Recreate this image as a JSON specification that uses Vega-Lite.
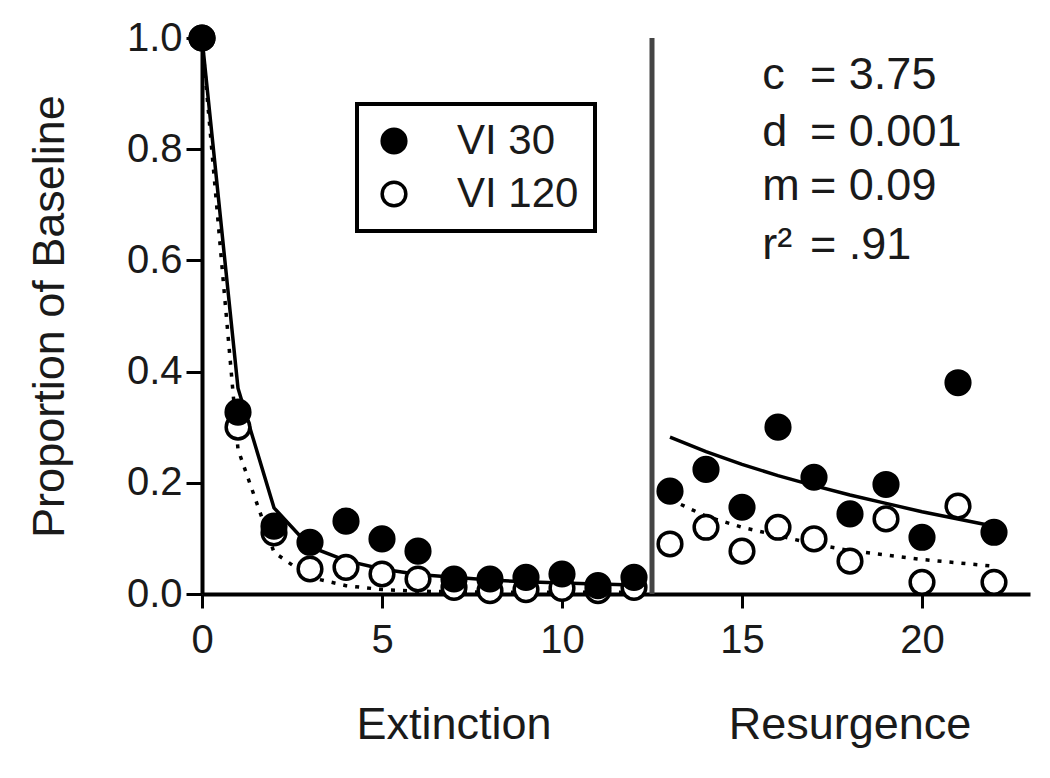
{
  "$schema": "https://vega.github.io/schema/vega-lite/v6.json",
  "width": 828,
  "height": 556,
  "autosize": {"type": "none"},
  "padding": {"left": 202, "top": 38, "right": 20, "bottom": 184},
  "background": "white",
  "config": {
    "view": {"stroke": null},
    "font": "Liberation Sans",
    "axis": {
      "domainColor": "black",
      "domainWidth": 4,
      "tickColor": "black",
      "tickWidth": 3,
      "grid": false,
      "labelFont": "Liberation Sans",
      "labelFontSize": 40,
      "labelColor": "#1a1a1a",
      "titleFont": "Liberation Sans",
      "titleFontSize": 45,
      "titleFontWeight": "normal",
      "titleColor": "#1a1a1a"
    },
    "legend": {
      "labelFont": "Liberation Sans",
      "labelFontSize": 42,
      "labelColor": "#1a1a1a"
    }
  },
  "datasets": {
    "obs": [
      {"x": 0, "y": 1.0, "g": "VI 120"},
      {"x": 1, "y": 0.30, "g": "VI 120"},
      {"x": 2, "y": 0.11, "g": "VI 120"},
      {"x": 3, "y": 0.045, "g": "VI 120"},
      {"x": 4, "y": 0.048, "g": "VI 120"},
      {"x": 5, "y": 0.036, "g": "VI 120"},
      {"x": 6, "y": 0.027, "g": "VI 120"},
      {"x": 7, "y": 0.012, "g": "VI 120"},
      {"x": 8, "y": 0.006, "g": "VI 120"},
      {"x": 9, "y": 0.008, "g": "VI 120"},
      {"x": 10, "y": 0.01, "g": "VI 120"},
      {"x": 11, "y": 0.006, "g": "VI 120"},
      {"x": 12, "y": 0.012, "g": "VI 120"},
      {"x": 13, "y": 0.09, "g": "VI 120"},
      {"x": 14, "y": 0.12, "g": "VI 120"},
      {"x": 15, "y": 0.077, "g": "VI 120"},
      {"x": 16, "y": 0.12, "g": "VI 120"},
      {"x": 17, "y": 0.099, "g": "VI 120"},
      {"x": 18, "y": 0.059, "g": "VI 120"},
      {"x": 19, "y": 0.135, "g": "VI 120"},
      {"x": 20, "y": 0.021, "g": "VI 120"},
      {"x": 21, "y": 0.158, "g": "VI 120"},
      {"x": 22, "y": 0.021, "g": "VI 120"},
      {"x": 0, "y": 1.0, "g": "VI 30"},
      {"x": 1, "y": 0.327, "g": "VI 30"},
      {"x": 2, "y": 0.122, "g": "VI 30"},
      {"x": 3, "y": 0.093, "g": "VI 30"},
      {"x": 4, "y": 0.131, "g": "VI 30"},
      {"x": 5, "y": 0.099, "g": "VI 30"},
      {"x": 6, "y": 0.077, "g": "VI 30"},
      {"x": 7, "y": 0.027, "g": "VI 30"},
      {"x": 8, "y": 0.027, "g": "VI 30"},
      {"x": 9, "y": 0.03, "g": "VI 30"},
      {"x": 10, "y": 0.036, "g": "VI 30"},
      {"x": 11, "y": 0.015, "g": "VI 30"},
      {"x": 12, "y": 0.03, "g": "VI 30"},
      {"x": 13, "y": 0.185, "g": "VI 30"},
      {"x": 14, "y": 0.224, "g": "VI 30"},
      {"x": 15, "y": 0.156, "g": "VI 30"},
      {"x": 16, "y": 0.30, "g": "VI 30"},
      {"x": 17, "y": 0.21, "g": "VI 30"},
      {"x": 18, "y": 0.144, "g": "VI 30"},
      {"x": 19, "y": 0.197, "g": "VI 30"},
      {"x": 20, "y": 0.102, "g": "VI 30"},
      {"x": 21, "y": 0.38, "g": "VI 30"},
      {"x": 22, "y": 0.111, "g": "VI 30"}
    ],
    "fit30": [
      {"x": 0, "y": 1.0, "seg": "ext"},
      {"x": 1, "y": 0.37, "seg": "ext"},
      {"x": 2, "y": 0.155, "seg": "ext"},
      {"x": 3, "y": 0.085, "seg": "ext"},
      {"x": 4, "y": 0.06, "seg": "ext"},
      {"x": 5, "y": 0.045, "seg": "ext"},
      {"x": 6, "y": 0.035, "seg": "ext"},
      {"x": 7, "y": 0.03, "seg": "ext"},
      {"x": 8, "y": 0.025, "seg": "ext"},
      {"x": 9, "y": 0.022, "seg": "ext"},
      {"x": 10, "y": 0.02, "seg": "ext"},
      {"x": 11, "y": 0.018, "seg": "ext"},
      {"x": 12, "y": 0.016, "seg": "ext"},
      {"x": 13, "y": 0.282, "seg": "res"},
      {"x": 14, "y": 0.256, "seg": "res"},
      {"x": 15, "y": 0.233, "seg": "res"},
      {"x": 16, "y": 0.213, "seg": "res"},
      {"x": 17, "y": 0.195, "seg": "res"},
      {"x": 18, "y": 0.178, "seg": "res"},
      {"x": 19, "y": 0.163, "seg": "res"},
      {"x": 20, "y": 0.148, "seg": "res"},
      {"x": 21, "y": 0.135, "seg": "res"},
      {"x": 22, "y": 0.122, "seg": "res"}
    ],
    "fit120": [
      {"x": 0, "y": 1.0, "seg": "ext"},
      {"x": 1, "y": 0.26, "seg": "ext"},
      {"x": 2, "y": 0.075, "seg": "ext"},
      {"x": 3, "y": 0.03, "seg": "ext"},
      {"x": 4, "y": 0.015, "seg": "ext"},
      {"x": 5, "y": 0.008, "seg": "ext"},
      {"x": 6, "y": 0.005, "seg": "ext"},
      {"x": 7, "y": 0.004, "seg": "ext"},
      {"x": 8, "y": 0.003, "seg": "ext"},
      {"x": 9, "y": 0.003, "seg": "ext"},
      {"x": 10, "y": 0.003, "seg": "ext"},
      {"x": 11, "y": 0.003, "seg": "ext"},
      {"x": 12, "y": 0.003, "seg": "ext"},
      {"x": 13, "y": 0.17, "seg": "res"},
      {"x": 14, "y": 0.14, "seg": "res"},
      {"x": 15, "y": 0.12, "seg": "res"},
      {"x": 16, "y": 0.105, "seg": "res"},
      {"x": 17, "y": 0.09, "seg": "res"},
      {"x": 18, "y": 0.078, "seg": "res"},
      {"x": 19, "y": 0.07, "seg": "res"},
      {"x": 20, "y": 0.062, "seg": "res"},
      {"x": 21, "y": 0.056, "seg": "res"},
      {"x": 22, "y": 0.05, "seg": "res"}
    ]
  },
  "layer": [
    {
      "data": {"values": [{"x": 12.5, "y": 0, "y2": 1}]},
      "mark": {"type": "rule", "color": "#444444", "strokeWidth": 5},
      "encoding": {
        "x": {"field": "x", "type": "quantitative", "scale": {"domain": [0, 23], "nice": false}, "title": null},
        "y": {"field": "y", "type": "quantitative", "scale": {"domain": [0, 1], "nice": false}, "title": "Proportion of Baseline"},
        "y2": {"field": "y2"}
      }
    },
    {
      "data": {"name": "fit30"},
      "mark": {"type": "line", "color": "black", "strokeWidth": 3.5},
      "encoding": {
        "x": {"field": "x", "type": "quantitative", "title": null},
        "y": {"field": "y", "type": "quantitative", "title": "Proportion of Baseline"},
        "detail": {"field": "seg"}
      }
    },
    {
      "data": {"name": "fit120"},
      "mark": {"type": "line", "color": "black", "strokeWidth": 3.5, "strokeDash": [4, 8]},
      "encoding": {
        "x": {"field": "x", "type": "quantitative", "title": null},
        "y": {"field": "y", "type": "quantitative", "title": "Proportion of Baseline"},
        "detail": {"field": "seg"}
      }
    },
    {
      "data": {"name": "obs"},
      "mark": {"type": "point", "shape": "circle", "filled": true, "size": 560, "stroke": "black", "strokeWidth": 3.5, "opacity": 1},
      "encoding": {
        "x": {
          "field": "x", "type": "quantitative", "title": null,
          "scale": {"domain": [0, 23], "nice": false},
          "axis": {"values": [0, 5, 10, 15, 20], "tickSize": 14, "labelPadding": 12, "labelFlush": false}
        },
        "y": {
          "field": "y", "type": "quantitative", "title": "Proportion of Baseline",
          "scale": {"domain": [0, 1], "nice": false},
          "axis": {"values": [0, 0.2, 0.4, 0.6, 0.8, 1.0], "format": ".1f", "tickSize": 16, "labelPadding": 4, "titlePadding": 54, "labelFlush": false}
        },
        "fill": {
          "field": "g", "type": "nominal",
          "scale": {"domain": ["VI 30", "VI 120"], "range": ["black", "white"]},
          "legend": {
            "title": null,
            "orient": "none",
            "legendX": 155,
            "legendY": 66,
            "fillColor": "white",
            "strokeColor": "black",
            "padding": 16,
            "rowPadding": 11,
            "symbolType": "circle",
            "symbolSize": 560,
            "symbolStrokeColor": "black",
            "symbolStrokeWidth": 3.5,
            "symbolOpacity": 1,
            "labelOffset": 42,
            "labelFontSize": 42,
            "encode": {"legend": {"update": {"strokeWidth": {"value": 4}}}}
          }
        }
      }
    },
    {
      "data": {"values": [
        {"x": 15.56, "y": 0.933, "t": "c"},
        {"x": 15.56, "y": 0.831, "t": "d"},
        {"x": 15.56, "y": 0.734, "t": "m"},
        {"x": 15.56, "y": 0.628, "t": "r²"}
      ]},
      "mark": {"type": "text", "align": "left", "baseline": "middle", "fontSize": 45, "color": "#1a1a1a", "font": "Liberation Sans"},
      "encoding": {
        "x": {"field": "x", "type": "quantitative", "title": null},
        "y": {"field": "y", "type": "quantitative", "title": "Proportion of Baseline"},
        "text": {"field": "t"}
      }
    },
    {
      "data": {"values": [
        {"x": 16.89, "y": 0.933, "t": "= 3.75"},
        {"x": 16.89, "y": 0.831, "t": "= 0.001"},
        {"x": 16.89, "y": 0.734, "t": "= 0.09"},
        {"x": 16.89, "y": 0.628, "t": "= .91"}
      ]},
      "mark": {"type": "text", "align": "left", "baseline": "middle", "fontSize": 45, "color": "#1a1a1a", "font": "Liberation Sans"},
      "encoding": {
        "x": {"field": "x", "type": "quantitative", "title": null},
        "y": {"field": "y", "type": "quantitative", "title": "Proportion of Baseline"},
        "text": {"field": "t"}
      }
    },
    {
      "data": {"values": [
        {"x": 7.0, "y": -0.236, "t": "Extinction"},
        {"x": 18.0, "y": -0.236, "t": "Resurgence"}
      ]},
      "mark": {"type": "text", "align": "center", "baseline": "middle", "fontSize": 45, "color": "#1a1a1a", "font": "Liberation Sans"},
      "encoding": {
        "x": {"field": "x", "type": "quantitative", "title": null},
        "y": {"field": "y", "type": "quantitative", "title": "Proportion of Baseline"},
        "text": {"field": "t"}
      }
    }
  ]
}
